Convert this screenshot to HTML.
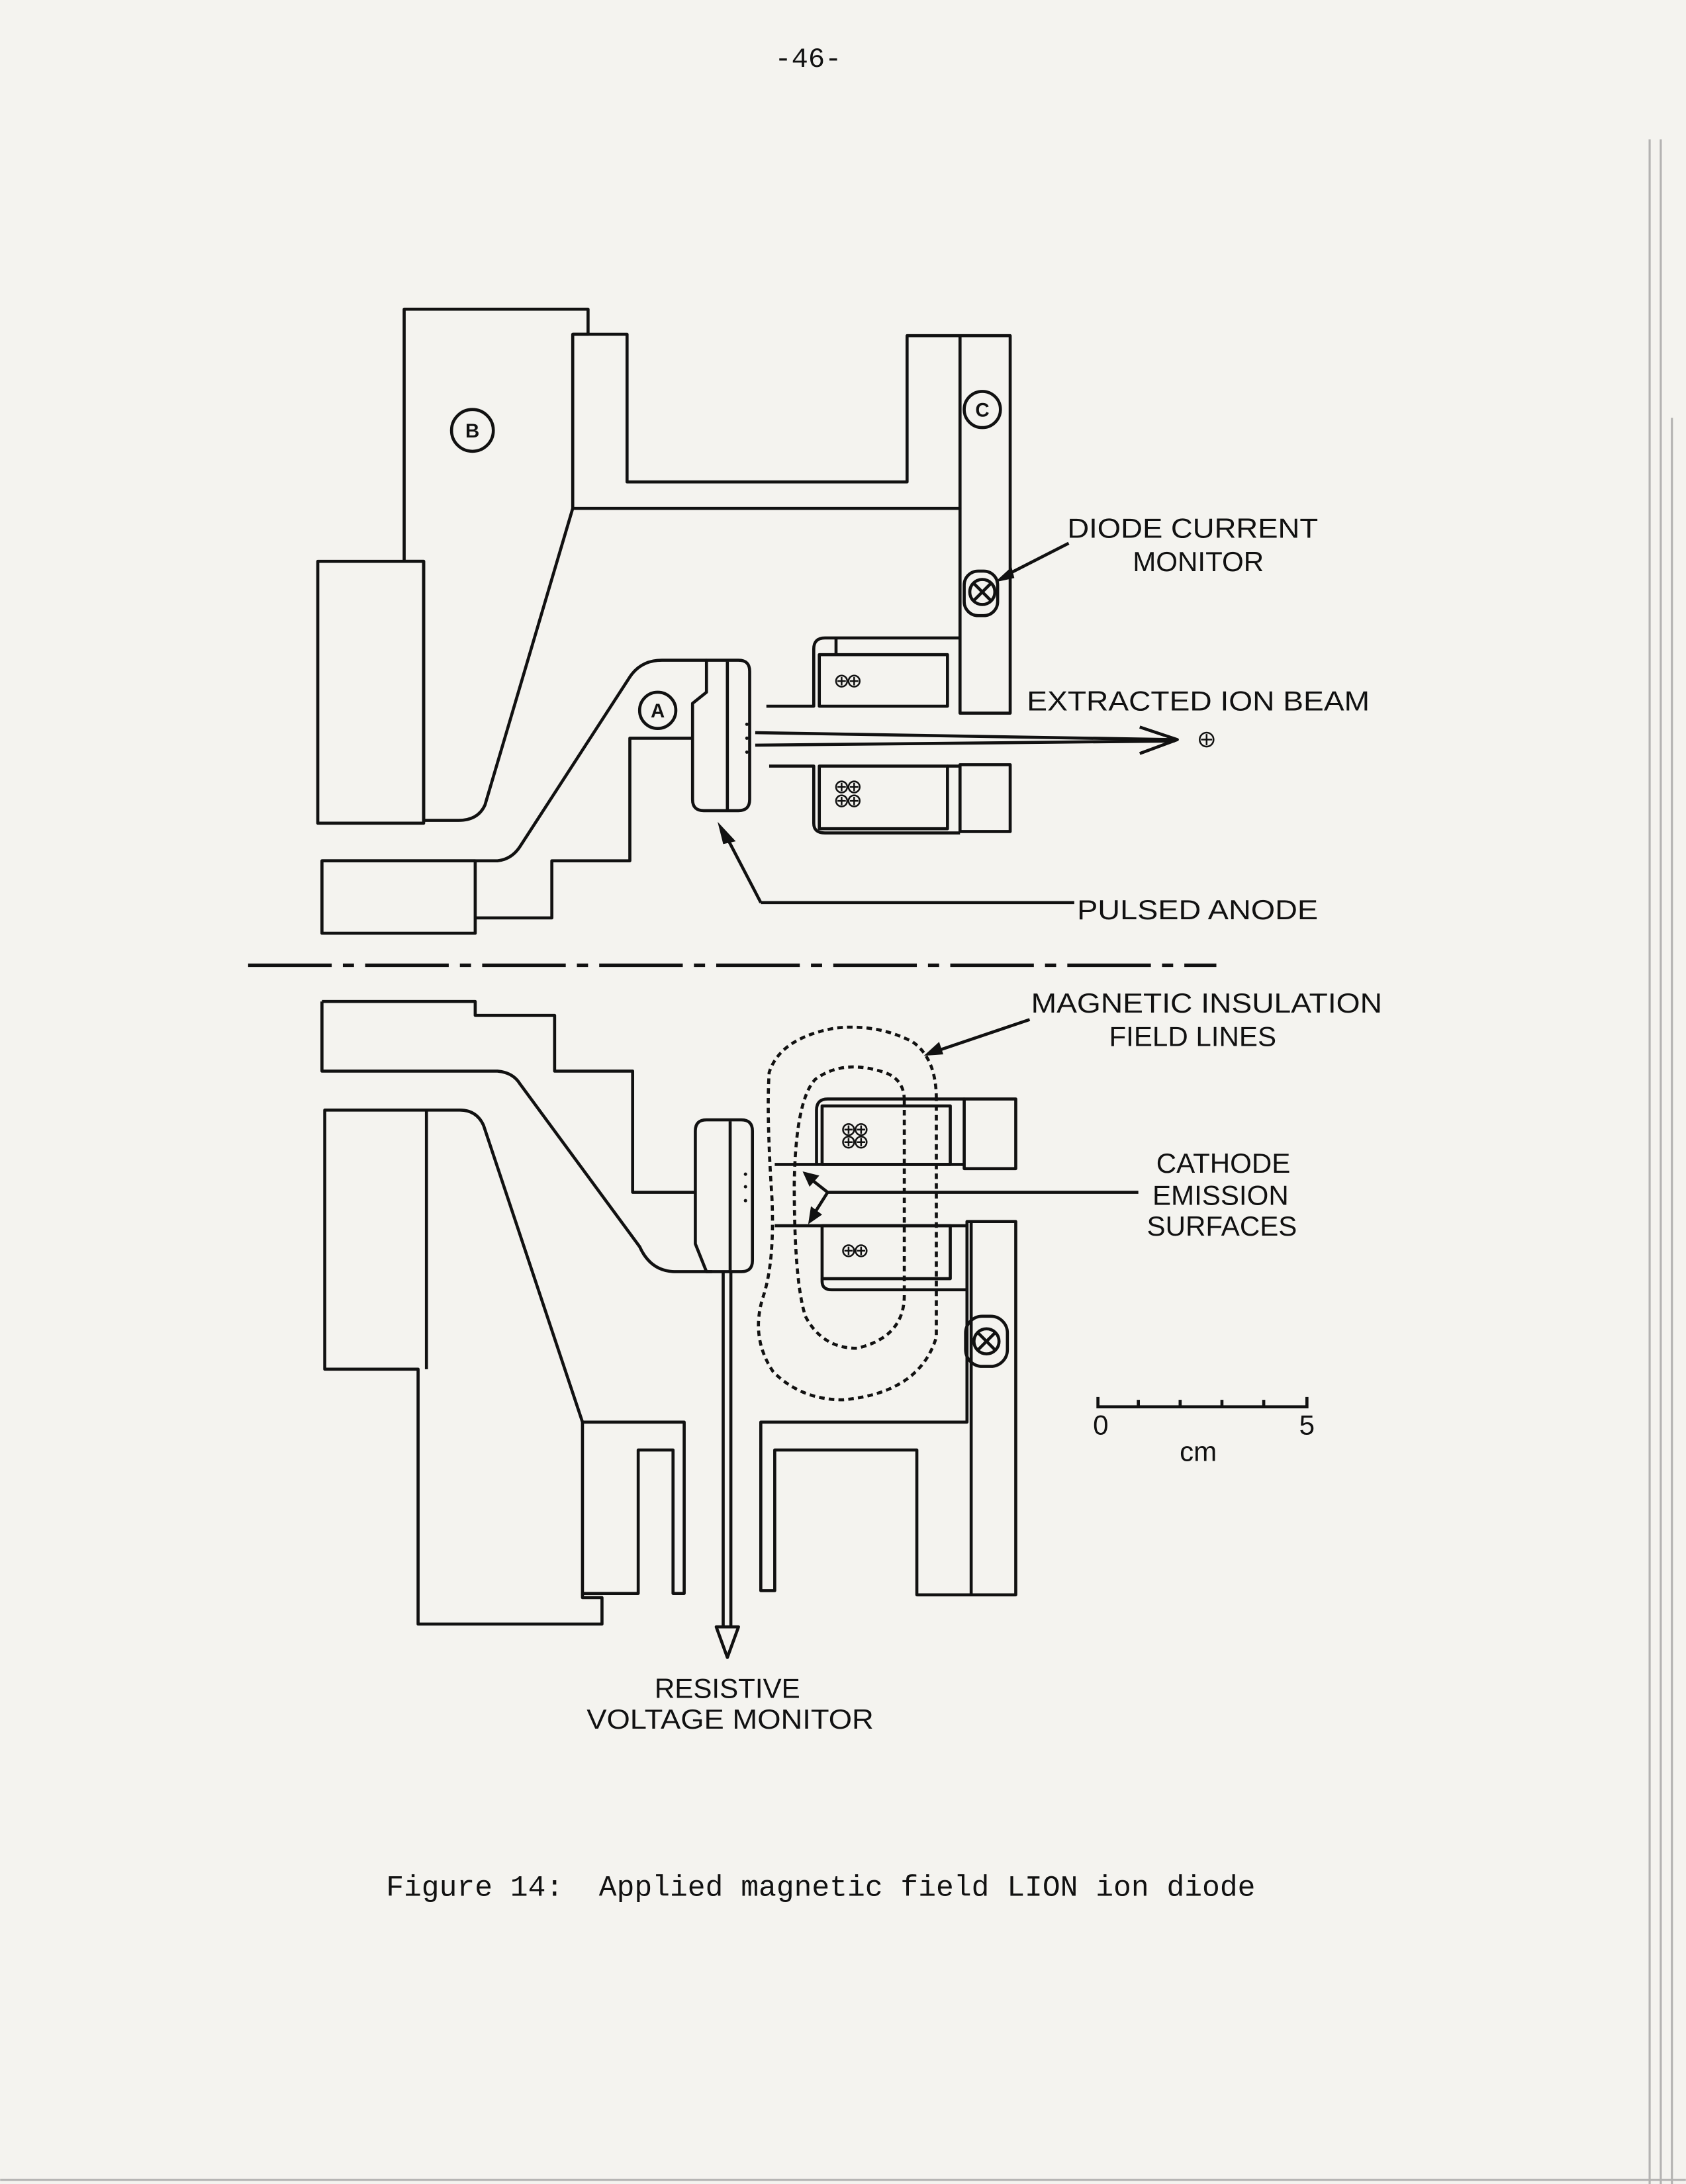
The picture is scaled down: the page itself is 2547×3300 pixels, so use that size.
<!DOCTYPE html>
<html><head><meta charset="utf-8"><style>
html,body{margin:0;padding:0;background:#f4f3ef;}
svg{display:block}
text{font-family:"Liberation Sans",sans-serif;fill:#111}
.m{font-family:"Liberation Mono",monospace}
</style></head><body>
<svg width="2547" height="3300" viewBox="0 0 1210 1568" xmlns="http://www.w3.org/2000/svg">
<rect width="1210" height="1568" fill="#f4f3ef"/>
<g stroke="#999" stroke-width="1.5" opacity="0.7">
<line x1="1184" y1="100" x2="1184" y2="1568"/><line x1="1192" y1="100" x2="1192" y2="1568"/>
<line x1="1200" y1="300" x2="1200" y2="1568"/><line x1="0" y1="1565" x2="1210" y2="1565"/>
</g>
<text x="580" y="48" class="m" font-size="20" text-anchor="middle">-46-</text>

<g fill="none" stroke="#111" stroke-width="2.2" stroke-linejoin="round">
<path d="M290 222 L422 222 L422 240 L411 240 L411 365 L348 578 Q343 589 329 589 L304 589 L304 403 L290 403 Z"/>
<rect x="228" y="403" width="76" height="188"/>
<path d="M411 240 L450 240 L450 346 L651 346 L651 241 L725 241 L725 512 L689 512 L689 365 L411 365"/>
<line x1="689" y1="241" x2="689" y2="365"/>
<path d="M231 618 L357 618 Q367 617 373 608 L452 486 Q460 474 475 474 L507 474"/>
<rect x="231" y="618" width="110" height="52"/>
<path d="M341 659 L396 659 L396 618 L452 618 L452 530 L497 530"/>
<path d="M507 474 L530 474 Q538 474 538 482 L538 574 Q538 582 530 582 L505 582 Q497 582 497 574 L497 505 L507 497 Z"/>
<path d="M522 475 L522 581"/>
<line x1="542" y1="526" x2="843" y2="531"/><line x1="542" y1="535" x2="843" y2="532"/>
<path d="M818 522 L845 531 L818 541"/>
<path d="M550 507 L584 507 L584 466 Q584 458 592 458 L689 458"/>
<rect x="588" y="470" width="92" height="37"/>
<line x1="600" y1="458" x2="600" y2="470"/>
<path d="M552 550 L584 550 L584 591 Q584 598 592 598 L689 598"/>
<rect x="588" y="550" width="92" height="45"/>
<rect x="689" y="549" width="36" height="48"/>
<line x1="680" y1="550" x2="689" y2="550"/>
<rect x="692" y="410" width="24" height="32" rx="10"/>
<circle cx="705" cy="425" r="9"/>
<path d="M699 419 L711 431 M711 419 L699 431"/>
<circle cx="339" cy="309" r="15"/>
<circle cx="705" cy="294" r="13"/>
<circle cx="472" cy="510" r="13"/>
<path d="M546 648 L771 648 M546 648 L521 600"/>
<path d="M767 390 L722 413"/>
</g>
<polygon points="515,590 528,604 519,606" fill="#111"/>
<polygon points="714,418 726,407 728,415" fill="#111"/>
<g font-size="14" text-anchor="middle" font-weight="bold">
<text x="339" y="314">B</text><text x="705" y="299">C</text><text x="472" y="515">A</text>
</g>
<g fill="none" stroke="#111" stroke-width="1.2">
<circle cx="604" cy="489" r="4"/><circle cx="613" cy="489" r="4"/>
<circle cx="604" cy="565" r="4"/><circle cx="613" cy="565" r="4"/>
<circle cx="604" cy="575" r="4"/><circle cx="613" cy="575" r="4"/>
<path d="M601 489h6M604 486v6M610 489h6M613 486v6M601 565h6M604 562v6M610 565h6M613 562v6M601 575h6M604 572v6M610 575h6M613 572v6"/>
<circle cx="866" cy="531" r="5"/><path d="M862 531h8M866 527v8"/>
</g>
<line x1="178" y1="693" x2="873" y2="693" stroke="#111" stroke-width="2.5" stroke-dasharray="60 8 8 8"/>

<g fill="none" stroke="#111" stroke-width="2.2" stroke-linejoin="round">
<path d="M231 719 L341 719 L341 729 L398 729 L398 769 L454 769 L454 856 L499 856"/>
<path d="M231 719 L231 769 L357 769 Q368 770 373 778 L459 895 Q467 913 485 913 L511 913"/>
<path d="M233 797 L330 797 Q342 797 347 808 L418 1021 L418 1147 L432 1147 L432 1166 L300 1166 L300 983 L233 983 Z"/>
<line x1="306" y1="797" x2="306" y2="983"/>
<path d="M418 1021 L491 1021 L491 1144 L483 1144 L483 1041 L458 1041 L458 1144 L418 1144"/>
<path d="M507 804 L532 804 Q540 804 540 812 L540 905 Q540 913 532 913 L507 913 L499 893 L499 812 Q499 804 507 804 Z"/>
<path d="M524 805 L524 912"/>
<line x1="519" y1="913" x2="519" y2="1168"/><line x1="524.5" y1="913" x2="524.5" y2="1168"/>
<path d="M514 1168 L522 1190 L530 1168 Z"/>
<path d="M546 1021 L694 1021 L694 877 L729 877 L729 1145 L658 1145 L658 1041 L556 1041 L556 1142 L546 1142 Z"/>
<line x1="697" y1="877" x2="697" y2="1145"/>
<rect x="692" y="789" width="37" height="50"/>
<path d="M692 789 L594 789 Q586 789 586 797 L586 836"/>
<rect x="590" y="794" width="92" height="42"/>
<line x1="556" y1="836" x2="692" y2="836"/>
<line x1="556" y1="880" x2="694" y2="880"/>
<rect x="590" y="880" width="92" height="38"/>
<path d="M590 918 L590 920 Q590 926 597 926 L694 926"/>
<rect x="693" y="945" width="30" height="36" rx="12"/>
<circle cx="708" cy="963" r="9"/><path d="M702 957 L714 969 M714 957 L702 969"/>
<path d="M817 856 L594 856 L580 845 M594 856 L582 875"/>
<path d="M739 732 L668 756"/>
</g>
<polygon points="576,841 588,844 581,852" fill="#111"/>
<polygon points="580,879 582,866 590,872" fill="#111"/>
<polygon points="663,758 674,748 677,757" fill="#111"/>
<g fill="none" stroke="#111" stroke-width="2.2" stroke-dasharray="4 3">
<path d="M672 789 Q672 760 655 748 Q630 735 600 738 Q560 745 552 770 Q550 800 554 860 Q556 905 548 930 Q538 960 555 985 Q575 1005 605 1005 Q660 1000 672 960 Z"/>
<path d="M649 790 Q649 775 635 770 Q605 760 585 775 Q571 790 570 850 Q570 920 578 945 Q590 968 615 968 Q649 960 649 930 Z"/>
</g>
<g fill="none" stroke="#111" stroke-width="1.2">
<circle cx="609" cy="811" r="4"/><circle cx="618" cy="811" r="4"/><circle cx="609" cy="820" r="4"/><circle cx="618" cy="820" r="4"/>
<path d="M606 811h6M609 808v6M615 811h6M618 808v6M606 820h6M609 817v6M615 820h6M618 817v6"/>
<circle cx="609" cy="898" r="4"/><circle cx="618" cy="898" r="4"/>
<path d="M606 898h6M609 895v6M615 898h6M618 895v6"/>
</g>
<g fill="#111"><circle cx="536" cy="520" r="1.2"/><circle cx="536" cy="530" r="1.2"/><circle cx="536" cy="540" r="1.2"/>
<circle cx="535" cy="843" r="1.2"/><circle cx="535" cy="852" r="1.2"/><circle cx="535" cy="862" r="1.2"/></g>
<path d="M788 1003 L788 1010 L938 1010 L938 1003 M817 1010v-5 M847 1010v-5 M877 1010v-5 M907 1010v-5" fill="none" stroke="#111" stroke-width="2.2"/>

<g font-size="20">
<text x="856" y="386" text-anchor="middle" textLength="180" lengthAdjust="spacingAndGlyphs">DIODE CURRENT</text>
<text x="860" y="410" text-anchor="middle">MONITOR</text>
<text x="737" y="510" textLength="246" lengthAdjust="spacingAndGlyphs">EXTRACTED ION BEAM</text>
<text x="773" y="660" textLength="173" lengthAdjust="spacingAndGlyphs">PULSED ANODE</text>
<text x="866" y="727" text-anchor="middle" textLength="252" lengthAdjust="spacingAndGlyphs">MAGNETIC INSULATION</text>
<text x="856" y="751" text-anchor="middle">FIELD LINES</text>
<text x="878" y="842" text-anchor="middle">CATHODE</text>
<text x="876" y="865" text-anchor="middle">EMISSION</text>
<text x="877" y="887" text-anchor="middle">SURFACES</text>
<text x="522" y="1219" text-anchor="middle">RESISTIVE</text>
<text x="524" y="1241" text-anchor="middle" textLength="206" lengthAdjust="spacingAndGlyphs">VOLTAGE MONITOR</text>
<text x="790" y="1030" text-anchor="middle">0</text>
<text x="938" y="1030" text-anchor="middle">5</text>
<text x="860" y="1049" text-anchor="middle">cm</text>
</g>
<text x="277" y="1361" class="m" font-size="21" textLength="624" lengthAdjust="spacingAndGlyphs">Figure 14:&#160;&#160;Applied magnetic field LION ion diode</text>
</svg>
</body></html>
